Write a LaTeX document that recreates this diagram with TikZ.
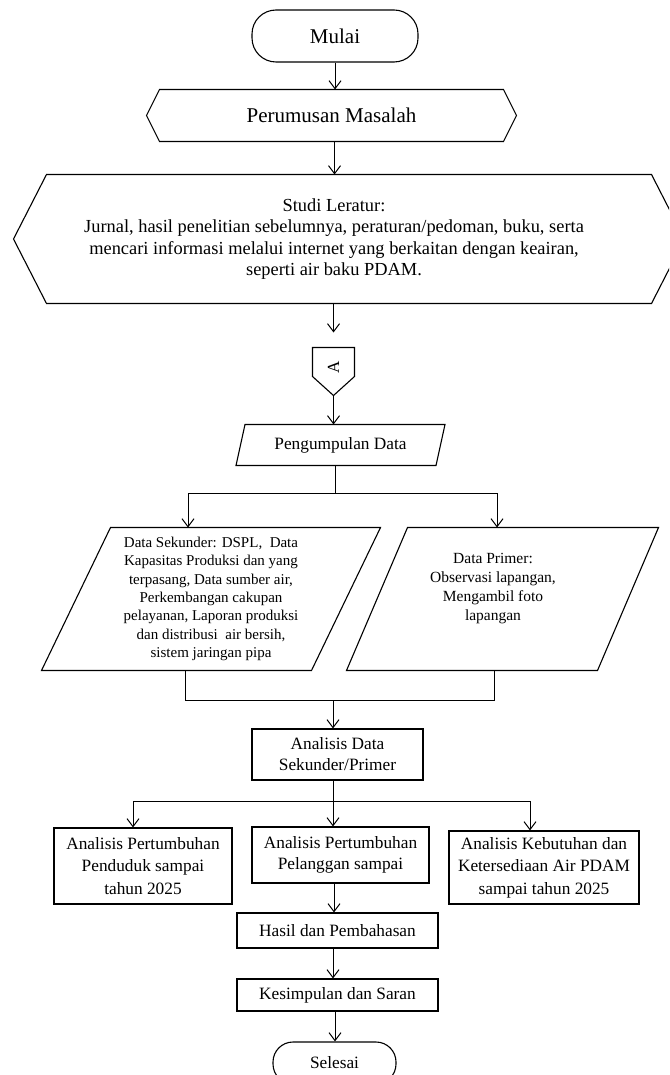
\documentclass[tikz,border=0pt]{standalone}
\usepackage{fontspec}
\setmainfont{Liberation Serif}
\usetikzlibrary{arrows.meta,calc}
\begin{document}
\begin{tikzpicture}[x=1pt,y=-1pt,
  line width=1pt,
  arr/.style={-{Straight Barb[length=8pt,width=12pt,line width=1pt]}},
  bx/.style={draw, line width=1.1pt, inner sep=0pt, align=center, font=\fontsize{17.3}{22.5}\selectfont},
  body/.style={inner sep=0pt, align=center, font=\fontsize{17.3}{22.5}\selectfont},
  shp/.style={line width=1.1pt, line join=miter},
  big/.style={font=\fontsize{21}{24}\selectfont},
]
\useasboundingbox (0,0) rectangle (669,1075);
\clip (0,0) rectangle (669,1075);

% Mulai
\node[bx, big, rounded corners=24pt, minimum width=166pt, minimum height=52pt] (mulai) at (335,36) {Mulai};

% Perumusan Masalah
\node[body, big, minimum width=343pt, minimum height=51pt] (per) at (331.5,115.5) {Perumusan Masalah};
\draw[shp] (per.north west) -- (per.north east) -- ($(per.east)+(13,0)$) -- (per.south east) -- (per.south west) -- ($(per.west)+(-13,0)$) -- cycle;

% Studi Literatur
\node[body, minimum width=604pt, minimum height=128pt] (stu) at (349,239) {};
\draw[shp] (stu.north west) -- (stu.north east) -- ($(stu.east)+(33,0)$) -- (stu.south east) -- (stu.south west) -- ($(stu.west)+(-33,0)$) -- cycle;
\node[body, font=\fontsize{18.4}{21.3}\selectfont] (stut) at (334,239) {Studi Leratur:\\Jurnal, hasil penelitian sebelumnya, peraturan/pedoman, buku, serta\\mencari informasi melalui internet yang berkaitan dengan keairan,\\seperti air baku PDAM.};

% connector A
\node[body, minimum width=41pt, minimum height=28pt] (A) at (333.5,362) {};
\coordinate (Ap) at ($(A.south)+(0,19)$);
\draw[shp] (A.north west) -- (A.north east) -- (A.south east) -- (Ap) -- (A.south west) -- cycle;
\node[rotate=90, inner sep=0pt, font=\fontsize{17}{20}\selectfont] (Atext) at (333.5,367) {A};

% Pengumpulan Data
\node[body, minimum width=199pt, minimum height=40pt] (pen) at (340.5,445) {Pengumpulan Data};
\draw[shp] ([xshift=4.5pt]pen.north west) -- ([xshift=4.5pt]pen.north east) -- ([xshift=-4.5pt]pen.south east) -- ([xshift=-4.5pt]pen.south west) -- cycle;

% Data Sekunder
\node[body, minimum width=269pt, minimum height=142pt, font=\fontsize{15}{18.3}\selectfont] (sek) at (211,599) {Data Sekunder: DSPL,~ Data\\Kapasitas Produksi dan yang\\terpasang, Data sumber air,\\Perkembangan cakupan\\pelayanan, Laporan produksi\\dan distribusi~ air bersih,\\sistem jaringan pipa};
\draw[shp] ([xshift=34.5pt]sek.north west) -- ([xshift=34.5pt]sek.north east) -- ([xshift=-34.5pt]sek.south east) -- ([xshift=-34.5pt]sek.south west) -- cycle;

% Data Primer
\node[body, minimum width=250pt, minimum height=142pt] (pri) at (502.5,599) {};
\draw[shp] ([xshift=30.5pt]pri.north west) -- ([xshift=30.5pt]pri.north east) -- ([xshift=-30.5pt]pri.south east) -- ([xshift=-30.5pt]pri.south west) -- cycle;
\node[body, font=\fontsize{15.5}{19}\selectfont] (prit) at (493,588.5) {Data Primer:\\Observasi lapangan,\\Mengambil foto\\lapangan};

% Analisis Data
\node[bx, minimum width=171pt, minimum height=51pt, font=\fontsize{17.3}{21}\selectfont] (ad) at (337.5,754.5) {Analisis Data\\Sekunder/Primer};

% three analyses
\node[bx, minimum width=178pt, minimum height=76pt] (a1) at (143,866) {Analisis Pertumbuhan\\Penduduk sampai\\tahun 2025};
\node[bx, minimum width=177pt, minimum height=56pt, font=\fontsize{17.3}{20.5}\selectfont] (a2) at (340.5,855) {Analisis Pertumbuhan\\Pelanggan sampai};
\node[bx, minimum width=190pt, minimum height=73pt] (a3) at (544,867.5) {Analisis Kebutuhan dan\\Ketersediaan Air PDAM\\sampai tahun 2025};

% Hasil, Kesimpulan, Selesai
\node[bx, minimum width=201pt, minimum height=35pt] (has) at (337.5,930.5) {Hasil dan Pembahasan};
\node[bx, minimum width=201pt, minimum height=32pt] (kes) at (337.5,995) {Kesimpulan dan Saran};
\node[bx, rounded corners=20pt, minimum width=123pt, minimum height=42pt] (sel) at (334.5,1063) {Selesai};

% junctions
\coordinate (j1) at (335,493);
\coordinate (j2) at (333,700);
\coordinate (j3) at (333,801);

% connectors
\draw[arr] (mulai.south) -- (mulai.south |- per.north);
\draw[arr] ([xshift=3pt]per.south) -- ([xshift=3pt]per.south |- stu.north);
\draw[arr] (stu.south -| A.north) -- ($(A.north)+(0,-15)$);
\draw[arr] (Ap) -- (Ap |- pen.north);
\draw (j1 |- pen.south) -- (j1);
\draw[arr] (j1) -| ([xshift=-23pt]sek.north);
\draw[arr] (j1) -| ([xshift=-5.5pt]pri.north);
\draw ([xshift=-26pt]sek.south) |- (j2);
\draw ([xshift=-8.5pt]pri.south) |- (j2);
\draw[arr] (j2) -- (j2 |- ad.north);
\draw (j3 |- ad.south) -- (j3);
\draw[arr] (j3) -| ([xshift=-10pt]a1.north);
\draw[arr] (j3) -- (j3 |- a2.north);
\draw[arr] (j3) -| ([xshift=-14pt]a3.north);
\draw[arr] ([xshift=-6.5pt]a2.south) -- ([xshift=-6.5pt]a2.south |- has.north);
\draw[arr] ([xshift=-4.5pt]has.south) -- ([xshift=-4.5pt]has.south |- kes.north);
\draw[arr] ([xshift=-2.5pt]kes.south) -- ([xshift=-2.5pt]kes.south |- sel.north);
\end{tikzpicture}
\end{document}
